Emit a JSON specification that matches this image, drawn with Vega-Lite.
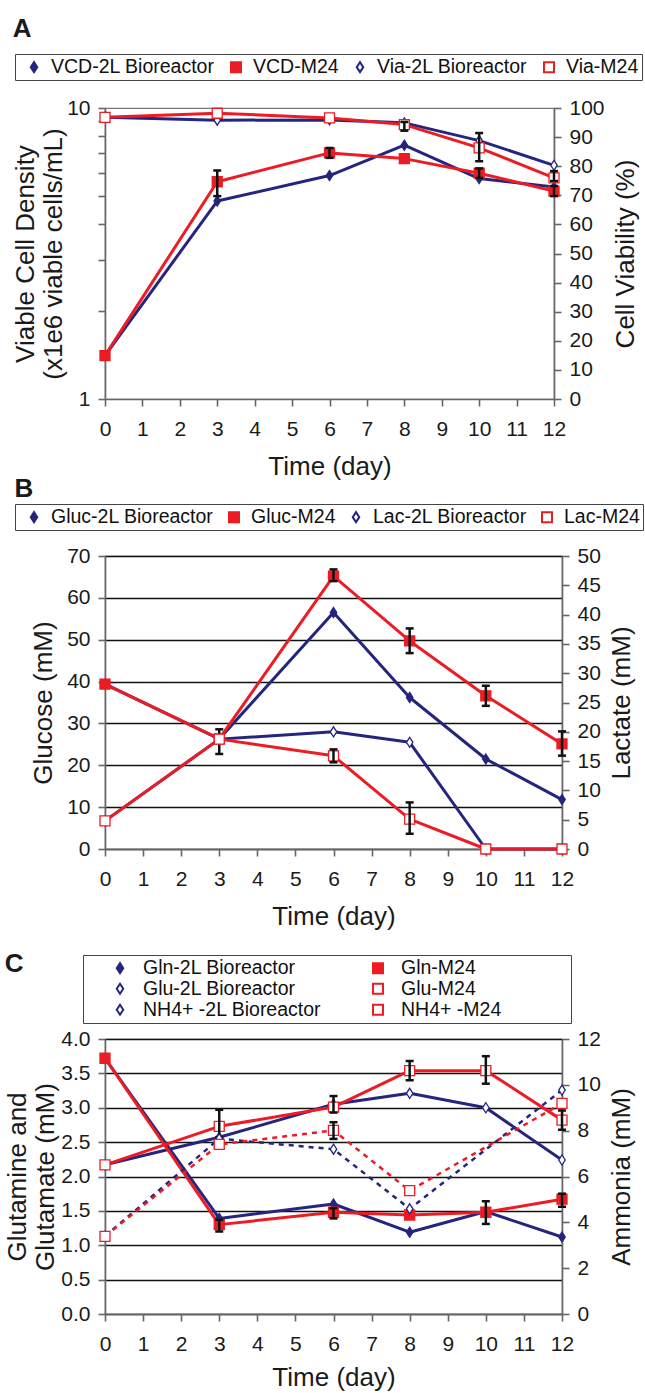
{
  "$schema": "https://vega.github.io/schema/vega-lite/v6.json",
  "background": "white",
  "padding": {"left": 4, "top": 14, "right": 0, "bottom": 0},
  "datasets": {
    "A": [
      {"measure": "VCD", "series": "VCD-2L Bioreactor", "day": 0, "v": 1.41},
      {"measure": "VCD", "series": "VCD-2L Bioreactor", "day": 3, "v": 4.79},
      {"measure": "VCD", "series": "VCD-2L Bioreactor", "day": 6, "v": 5.86},
      {"measure": "VCD", "series": "VCD-2L Bioreactor", "day": 8, "v": 7.45},
      {"measure": "VCD", "series": "VCD-2L Bioreactor", "day": 10, "v": 5.72},
      {"measure": "VCD", "series": "VCD-2L Bioreactor", "day": 12, "v": 5.35},
      {"measure": "VCD", "series": "VCD-M24", "day": 0, "v": 1.41},
      {"measure": "VCD", "series": "VCD-M24", "day": 3, "v": 5.58, "lo": 4.98, "hi": 6.1},
      {"measure": "VCD", "series": "VCD-M24", "day": 6, "v": 7.01, "lo": 6.74, "hi": 7.29},
      {"measure": "VCD", "series": "VCD-M24", "day": 8, "v": 6.7},
      {"measure": "VCD", "series": "VCD-M24", "day": 10, "v": 5.97, "lo": 5.75, "hi": 6.2},
      {"measure": "VCD", "series": "VCD-M24", "day": 12, "v": 5.18, "lo": 4.98, "hi": 5.39},
      {"measure": "Via", "series": "Via-2L Bioreactor", "day": 0, "v": 96.8},
      {"measure": "Via", "series": "Via-2L Bioreactor", "day": 3, "v": 95.8},
      {"measure": "Via", "series": "Via-2L Bioreactor", "day": 6, "v": 95.9},
      {"measure": "Via", "series": "Via-2L Bioreactor", "day": 8, "v": 94.9},
      {"measure": "Via", "series": "Via-2L Bioreactor", "day": 10, "v": 88.8},
      {"measure": "Via", "series": "Via-2L Bioreactor", "day": 12, "v": 80.3},
      {"measure": "Via", "series": "Via-M24", "day": 0, "v": 96.8},
      {"measure": "Via", "series": "Via-M24", "day": 3, "v": 98.2},
      {"measure": "Via", "series": "Via-M24", "day": 6, "v": 96.6},
      {"measure": "Via", "series": "Via-M24", "day": 8, "v": 94.3, "lo": 92.2, "hi": 95.2},
      {"measure": "Via", "series": "Via-M24", "day": 10, "v": 86.3, "lo": 81.7, "hi": 91.4},
      {"measure": "Via", "series": "Via-M24", "day": 12, "v": 76.0, "lo": 74.9, "hi": 78.3}
    ],
    "B": [
      {"measure": "Glucose", "series": "Gluc-2L Bioreactor", "day": 0, "v": 39.4},
      {"measure": "Glucose", "series": "Gluc-2L Bioreactor", "day": 3, "v": 26.3},
      {"measure": "Glucose", "series": "Gluc-2L Bioreactor", "day": 6, "v": 56.5},
      {"measure": "Glucose", "series": "Gluc-2L Bioreactor", "day": 8, "v": 36.2},
      {"measure": "Glucose", "series": "Gluc-2L Bioreactor", "day": 10, "v": 21.5},
      {"measure": "Glucose", "series": "Gluc-2L Bioreactor", "day": 12, "v": 11.8},
      {"measure": "Glucose", "series": "Gluc-M24", "day": 0, "v": 39.4},
      {"measure": "Glucose", "series": "Gluc-M24", "day": 3, "v": 26.3, "lo": 22.7, "hi": 28.6},
      {"measure": "Glucose", "series": "Gluc-M24", "day": 6, "v": 65.2, "lo": 64.0, "hi": 66.8},
      {"measure": "Glucose", "series": "Gluc-M24", "day": 8, "v": 49.7, "lo": 46.8, "hi": 52.7},
      {"measure": "Glucose", "series": "Gluc-M24", "day": 10, "v": 36.6, "lo": 34.2, "hi": 39.0},
      {"measure": "Glucose", "series": "Gluc-M24", "day": 12, "v": 25.1, "lo": 22.3, "hi": 28.1},
      {"measure": "Lactate", "series": "Lac-2L Bioreactor", "day": 0, "v": 4.8},
      {"measure": "Lactate", "series": "Lac-2L Bioreactor", "day": 3, "v": 18.75},
      {"measure": "Lactate", "series": "Lac-2L Bioreactor", "day": 6, "v": 20.0},
      {"measure": "Lactate", "series": "Lac-2L Bioreactor", "day": 8, "v": 18.2},
      {"measure": "Lactate", "series": "Lac-2L Bioreactor", "day": 10, "v": 0},
      {"measure": "Lactate", "series": "Lac-2L Bioreactor", "day": 12, "v": 0},
      {"measure": "Lactate", "series": "Lac-M24", "day": 0, "v": 4.8},
      {"measure": "Lactate", "series": "Lac-M24", "day": 3, "v": 18.75},
      {"measure": "Lactate", "series": "Lac-M24", "day": 6, "v": 15.9, "lo": 14.8, "hi": 17.0},
      {"measure": "Lactate", "series": "Lac-M24", "day": 8, "v": 5.1, "lo": 2.6, "hi": 7.95},
      {"measure": "Lactate", "series": "Lac-M24", "day": 10, "v": 0},
      {"measure": "Lactate", "series": "Lac-M24", "day": 12, "v": 0}
    ],
    "C": [
      {"measure": "Gln", "series": "Gln-2L Bioreactor", "day": 0, "v": 3.72},
      {"measure": "Gln", "series": "Gln-2L Bioreactor", "day": 3, "v": 1.39},
      {"measure": "Gln", "series": "Gln-2L Bioreactor", "day": 6, "v": 1.6},
      {"measure": "Gln", "series": "Gln-2L Bioreactor", "day": 8, "v": 1.19},
      {"measure": "Gln", "series": "Gln-2L Bioreactor", "day": 10, "v": 1.49},
      {"measure": "Gln", "series": "Gln-2L Bioreactor", "day": 12, "v": 1.12},
      {"measure": "Glu", "series": "Glu-2L Bioreactor", "day": 0, "v": 2.17},
      {"measure": "Glu", "series": "Glu-2L Bioreactor", "day": 3, "v": 2.57},
      {"measure": "Glu", "series": "Glu-2L Bioreactor", "day": 6, "v": 3.05},
      {"measure": "Glu", "series": "Glu-2L Bioreactor", "day": 8, "v": 3.21},
      {"measure": "Glu", "series": "Glu-2L Bioreactor", "day": 10, "v": 3.0},
      {"measure": "Glu", "series": "Glu-2L Bioreactor", "day": 12, "v": 2.24},
      {"measure": "Gln", "series": "Gln-M24", "day": 0, "v": 3.72},
      {"measure": "Gln", "series": "Gln-M24", "day": 3, "v": 1.3, "lo": 1.2, "hi": 1.37},
      {"measure": "Gln", "series": "Gln-M24", "day": 6, "v": 1.48, "lo": 1.39, "hi": 1.54},
      {"measure": "Gln", "series": "Gln-M24", "day": 8, "v": 1.44},
      {"measure": "Gln", "series": "Gln-M24", "day": 10, "v": 1.48, "lo": 1.31, "hi": 1.64},
      {"measure": "Gln", "series": "Gln-M24", "day": 12, "v": 1.67, "lo": 1.56, "hi": 1.75},
      {"measure": "Glu", "series": "Glu-M24", "day": 0, "v": 2.17},
      {"measure": "Glu", "series": "Glu-M24", "day": 3, "v": 2.73, "lo": 2.57, "hi": 2.97},
      {"measure": "Glu", "series": "Glu-M24", "day": 6, "v": 3.01, "lo": 2.93, "hi": 3.17},
      {"measure": "Glu", "series": "Glu-M24", "day": 8, "v": 3.54, "lo": 3.4, "hi": 3.68},
      {"measure": "Glu", "series": "Glu-M24", "day": 10, "v": 3.54, "lo": 3.35, "hi": 3.75},
      {"measure": "Glu", "series": "Glu-M24", "day": 12, "v": 2.82, "lo": 2.68, "hi": 2.96},
      {"measure": "NH4", "series": "NH4+ -2L Bioreactor", "day": 0, "v": 3.39},
      {"measure": "NH4", "series": "NH4+ -2L Bioreactor", "day": 3, "v": 7.65},
      {"measure": "NH4", "series": "NH4+ -2L Bioreactor", "day": 6, "v": 7.19},
      {"measure": "NH4", "series": "NH4+ -2L Bioreactor", "day": 8, "v": 4.59},
      {"measure": "NH4", "series": "NH4+ -2L Bioreactor", "day": 12, "v": 9.77},
      {"measure": "NH4", "series": "NH4+ -M24", "day": 0, "v": 3.39},
      {"measure": "NH4", "series": "NH4+ -M24", "day": 3, "v": 7.4},
      {"measure": "NH4", "series": "NH4+ -M24", "day": 6, "v": 8.01, "lo": 7.64, "hi": 8.37},
      {"measure": "NH4", "series": "NH4+ -M24", "day": 8, "v": 5.38},
      {"measure": "NH4", "series": "NH4+ -M24", "day": 12, "v": 9.19}
    ]
  },
  "vconcat": [
    {
      "spacing": -6,
      "resolve": {"scale": {"stroke": "independent", "fill": "independent", "shape": "independent"}, "legend": {"stroke": "independent"}},
      "vconcat": [
        {
          "data": {"name": "A"},
          "width": 449,
          "height": 291,
          "title": {"text": "A", "offset": 12},
          "layer": [
            {
              "transform": [{"filter": "datum.measure == 'VCD'"}],
              "encoding": {
                "x": {"field": "day", "type": "quantitative", "scale": {"domain": [0, 12], "nice": false}, "axis": {"values": [0,1,2,3,4,5,6,7,8,9,10,11,12], "format": "d", "title": "Time (day)", "labelPadding": 12, "titlePadding": 14, "labelOverlap": false}},
                "y": {"field": "v", "type": "quantitative", "scale": {"type": "log", "domain": [1, 10]}, "axis": {"orient": "left", "values": [1,2,3,4,5,6,7,8,9,10], "labelExpr": "datum.value == 1 || datum.value == 10 ? format(datum.value, 'd') : ''", "title": ["Viable Cell Density", "(x1e6 viable cells/mL)"], "titleLineHeight": 28, "titlePadding": 0, "labelOverlap": false}}
              },
              "layer": [
                {
                  "mark": {"type": "line", "strokeWidth": 3, "strokeJoin": "round"},
                  "encoding": {
                    "stroke": {"field": "series", "type": "nominal", "scale": {"domain": ["VCD-2L Bioreactor", "VCD-M24", "Via-2L Bioreactor", "Via-M24"], "range": ["#25257f", "#ec1c24", "#25257f", "#ec1c24"]}}
                  }
                },
                {
                  "mark": {"type": "point", "filled": true, "size": 100, "strokeWidth": 1.3, "opacity": 1},
                  "encoding": {
                    "stroke": {"field": "series", "type": "nominal", "scale": {"domain": ["VCD-2L Bioreactor", "VCD-M24", "Via-2L Bioreactor", "Via-M24"], "range": ["#25257f", "#ec1c24", "#25257f", "#ec1c24"]},
                      "legend": {"title": null, "orient": "none", "legendX": -90, "legendY": -54, "direction": "horizontal", "columns": 4, "symbolSize": 100, "symbolOffset": 6.25, "symbolStrokeWidth": 2, "labelFontSize": 19.5, "labelOffset": 7.25, "columnPadding": 5, "padding": 3, "strokeColor": "#444", "fillColor": "white", "labelColor": "#111", "labelLimit": 400}},
                    "fill": {"field": "series", "type": "nominal", "scale": {"domain": ["VCD-2L Bioreactor", "VCD-M24", "Via-2L Bioreactor", "Via-M24"], "range": ["#25257f", "#ec1c24", "white", "white"]}, "legend": null},
                    "shape": {"field": "series", "type": "nominal", "scale": {"domain": ["VCD-2L Bioreactor", "VCD-M24", "Via-2L Bioreactor", "Via-M24"], "range": ["M0,-1L0.65,0L0,1L-0.65,0Z", "square", "M0,-1L0.65,0L0,1L-0.65,0Z", "square"]}, "legend": null}
                  }
                },
                {
                  "transform": [{"filter": "isValid(datum.lo)"}],
                  "mark": {"type": "rule", "strokeWidth": 2.5, "color": "#111"},
                  "encoding": {
                    "y": {"field": "lo", "type": "quantitative", "scale": {"type": "log", "domain": [1, 10]}, "axis": {"orient": "left", "values": [1,2,3,4,5,6,7,8,9,10], "labelExpr": "datum.value == 1 || datum.value == 10 ? format(datum.value, 'd') : ''", "title": ["Viable Cell Density", "(x1e6 viable cells/mL)"], "titleLineHeight": 28, "titlePadding": 0, "labelOverlap": false}},
                    "y2": {"field": "hi"}
                  }
                },
                {
                  "transform": [{"filter": "isValid(datum.lo)"}, {"fold": ["lo", "hi"], "as": ["end", "cap"]}],
                  "mark": {"type": "tick", "orient": "horizontal", "size": 8, "thickness": 2.5, "color": "#111", "opacity": 1},
                  "encoding": {
                    "y": {"field": "cap", "type": "quantitative", "scale": {"type": "log", "domain": [1, 10]}, "axis": {"orient": "left", "values": [1,2,3,4,5,6,7,8,9,10], "labelExpr": "datum.value == 1 || datum.value == 10 ? format(datum.value, 'd') : ''", "title": ["Viable Cell Density", "(x1e6 viable cells/mL)"], "titleLineHeight": 28, "titlePadding": 0, "labelOverlap": false}}
                  }
                }
              ]
            },
            {
              "transform": [{"filter": "datum.measure == 'Via'"}],
              "encoding": {
                "x": {"field": "day", "type": "quantitative", "scale": {"domain": [0, 12], "nice": false}, "axis": {"values": [0,1,2,3,4,5,6,7,8,9,10,11,12], "format": "d", "title": "Time (day)", "labelPadding": 12, "titlePadding": 14, "labelOverlap": false}},
                "y": {"field": "v", "type": "quantitative", "scale": {"domain": [0, 100]}, "axis": {"orient": "right", "values": [0,10,20,30,40,50,60,70,80,90,100], "title": "Cell Viability (%)", "titleAngle": 270, "titleBaseline": "top", "titlePadding": 8, "labelOverlap": false}}
              },
              "layer": [
                {
                  "mark": {"type": "line", "strokeWidth": 3, "strokeJoin": "round"},
                  "encoding": {
                    "stroke": {"field": "series", "type": "nominal", "scale": {"domain": ["VCD-2L Bioreactor", "VCD-M24", "Via-2L Bioreactor", "Via-M24"], "range": ["#25257f", "#ec1c24", "#25257f", "#ec1c24"]}}
                  }
                },
                {
                  "mark": {"type": "point", "filled": true, "size": 100, "strokeWidth": 1.3, "opacity": 1},
                  "encoding": {
                    "stroke": {"field": "series", "type": "nominal", "scale": {"domain": ["VCD-2L Bioreactor", "VCD-M24", "Via-2L Bioreactor", "Via-M24"], "range": ["#25257f", "#ec1c24", "#25257f", "#ec1c24"]}},
                    "fill": {"field": "series", "type": "nominal", "scale": {"domain": ["VCD-2L Bioreactor", "VCD-M24", "Via-2L Bioreactor", "Via-M24"], "range": ["#25257f", "#ec1c24", "white", "white"]}, "legend": null},
                    "shape": {"field": "series", "type": "nominal", "scale": {"domain": ["VCD-2L Bioreactor", "VCD-M24", "Via-2L Bioreactor", "Via-M24"], "range": ["M0,-1L0.65,0L0,1L-0.65,0Z", "square", "M0,-1L0.65,0L0,1L-0.65,0Z", "square"]}, "legend": null}
                  }
                },
                {
                  "transform": [{"filter": "isValid(datum.lo)"}],
                  "mark": {"type": "rule", "strokeWidth": 2.5, "color": "#111"},
                  "encoding": {
                    "y": {"field": "lo", "type": "quantitative", "scale": {"domain": [0, 100]}, "axis": {"orient": "right", "values": [0,10,20,30,40,50,60,70,80,90,100], "title": "Cell Viability (%)", "titleAngle": 270, "titleBaseline": "top", "titlePadding": 8, "labelOverlap": false}},
                    "y2": {"field": "hi"}
                  }
                },
                {
                  "transform": [{"filter": "isValid(datum.lo)"}, {"fold": ["lo", "hi"], "as": ["end", "cap"]}],
                  "mark": {"type": "tick", "orient": "horizontal", "size": 8, "thickness": 2.5, "color": "#111", "opacity": 1},
                  "encoding": {
                    "y": {"field": "cap", "type": "quantitative", "scale": {"domain": [0, 100]}, "axis": {"orient": "right", "values": [0,10,20,30,40,50,60,70,80,90,100], "title": "Cell Viability (%)", "titleAngle": 270, "titleBaseline": "top", "titlePadding": 8, "labelOverlap": false}}
                  }
                }
              ]
            }
          ],
          "resolve": {"scale": {"y": "independent"}}
        },
        {
          "data": {"name": "B"},
          "width": 457,
          "height": 293,
          "title": {"text": "B", "offset": 2},
          "layer": [
            {
              "transform": [{"filter": "datum.measure == 'Glucose'"}],
              "encoding": {
                "x": {"field": "day", "type": "quantitative", "scale": {"domain": [0, 12], "nice": false}, "axis": {"values": [0,1,2,3,4,5,6,7,8,9,10,11,12], "format": "d", "title": "Time (day)", "labelPadding": 12, "titlePadding": 14, "labelOverlap": false}},
                "y": {"field": "v", "type": "quantitative", "scale": {"domain": [0, 70]}, "axis": {"orient": "left", "values": [0,10,20,30,40,50,60,70], "title": "Glucose (mM)", "titlePadding": 10, "grid": true, "gridColor": "#111", "gridWidth": 1.3, "labelOverlap": false}}
              },
              "layer": [
                {
                  "mark": {"type": "line", "strokeWidth": 3, "strokeJoin": "round"},
                  "encoding": {
                    "stroke": {"field": "series", "type": "nominal", "scale": {"domain": ["Gluc-2L Bioreactor", "Gluc-M24", "Lac-2L Bioreactor", "Lac-M24"], "range": ["#25257f", "#ec1c24", "#25257f", "#ec1c24"]}}
                  }
                },
                {
                  "mark": {"type": "point", "filled": true, "size": 100, "strokeWidth": 1.3, "opacity": 1},
                  "encoding": {
                    "stroke": {"field": "series", "type": "nominal", "scale": {"domain": ["Gluc-2L Bioreactor", "Gluc-M24", "Lac-2L Bioreactor", "Lac-M24"], "range": ["#25257f", "#ec1c24", "#25257f", "#ec1c24"]},
                      "legend": {"title": null, "orient": "none", "legendX": -90, "legendY": -52, "direction": "horizontal", "columns": 4, "symbolSize": 100, "symbolOffset": 6.25, "symbolStrokeWidth": 2, "labelFontSize": 19.5, "labelOffset": 7.25, "columnPadding": 4, "padding": 3, "strokeColor": "#444", "fillColor": "white", "labelColor": "#111", "labelLimit": 400}},
                    "fill": {"field": "series", "type": "nominal", "scale": {"domain": ["Gluc-2L Bioreactor", "Gluc-M24", "Lac-2L Bioreactor", "Lac-M24"], "range": ["#25257f", "#ec1c24", "white", "white"]}, "legend": null},
                    "shape": {"field": "series", "type": "nominal", "scale": {"domain": ["Gluc-2L Bioreactor", "Gluc-M24", "Lac-2L Bioreactor", "Lac-M24"], "range": ["M0,-1L0.65,0L0,1L-0.65,0Z", "square", "M0,-1L0.65,0L0,1L-0.65,0Z", "square"]}, "legend": null}
                  }
                },
                {
                  "transform": [{"filter": "isValid(datum.lo)"}],
                  "mark": {"type": "rule", "strokeWidth": 2.5, "color": "#111"},
                  "encoding": {
                    "y": {"field": "lo", "type": "quantitative", "scale": {"domain": [0, 70]}, "axis": {"orient": "left", "values": [0,10,20,30,40,50,60,70], "title": "Glucose (mM)", "titlePadding": 10, "grid": true, "gridColor": "#111", "gridWidth": 1.3, "labelOverlap": false}},
                    "y2": {"field": "hi"}
                  }
                },
                {
                  "transform": [{"filter": "isValid(datum.lo)"}, {"fold": ["lo", "hi"], "as": ["end", "cap"]}],
                  "mark": {"type": "tick", "orient": "horizontal", "size": 8, "thickness": 2.5, "color": "#111", "opacity": 1},
                  "encoding": {
                    "y": {"field": "cap", "type": "quantitative", "scale": {"domain": [0, 70]}, "axis": {"orient": "left", "values": [0,10,20,30,40,50,60,70], "title": "Glucose (mM)", "titlePadding": 10, "grid": true, "gridColor": "#111", "gridWidth": 1.3, "labelOverlap": false}}
                  }
                }
              ]
            },
            {
              "transform": [{"filter": "datum.measure == 'Lactate'"}],
              "encoding": {
                "x": {"field": "day", "type": "quantitative", "scale": {"domain": [0, 12], "nice": false}, "axis": {"values": [0,1,2,3,4,5,6,7,8,9,10,11,12], "format": "d", "title": "Time (day)", "labelPadding": 12, "titlePadding": 14, "labelOverlap": false}},
                "y": {"field": "v", "type": "quantitative", "scale": {"domain": [0, 50]}, "axis": {"orient": "right", "values": [0,5,10,15,20,25,30,35,40,45,50], "title": "Lactate (mM)", "titleAngle": 270, "titleBaseline": "top", "titlePadding": 8, "labelOverlap": false}}
              },
              "layer": [
                {
                  "mark": {"type": "line", "strokeWidth": 3, "strokeJoin": "round"},
                  "encoding": {
                    "stroke": {"field": "series", "type": "nominal", "scale": {"domain": ["Gluc-2L Bioreactor", "Gluc-M24", "Lac-2L Bioreactor", "Lac-M24"], "range": ["#25257f", "#ec1c24", "#25257f", "#ec1c24"]}}
                  }
                },
                {
                  "mark": {"type": "point", "filled": true, "size": 100, "strokeWidth": 1.3, "opacity": 1},
                  "encoding": {
                    "stroke": {"field": "series", "type": "nominal", "scale": {"domain": ["Gluc-2L Bioreactor", "Gluc-M24", "Lac-2L Bioreactor", "Lac-M24"], "range": ["#25257f", "#ec1c24", "#25257f", "#ec1c24"]}},
                    "fill": {"field": "series", "type": "nominal", "scale": {"domain": ["Gluc-2L Bioreactor", "Gluc-M24", "Lac-2L Bioreactor", "Lac-M24"], "range": ["#25257f", "#ec1c24", "white", "white"]}, "legend": null},
                    "shape": {"field": "series", "type": "nominal", "scale": {"domain": ["Gluc-2L Bioreactor", "Gluc-M24", "Lac-2L Bioreactor", "Lac-M24"], "range": ["M0,-1L0.65,0L0,1L-0.65,0Z", "square", "M0,-1L0.65,0L0,1L-0.65,0Z", "square"]}, "legend": null}
                  }
                },
                {
                  "transform": [{"filter": "isValid(datum.lo)"}],
                  "mark": {"type": "rule", "strokeWidth": 2.5, "color": "#111"},
                  "encoding": {
                    "y": {"field": "lo", "type": "quantitative", "scale": {"domain": [0, 50]}, "axis": {"orient": "right", "values": [0,5,10,15,20,25,30,35,40,45,50], "title": "Lactate (mM)", "titleAngle": 270, "titleBaseline": "top", "titlePadding": 8, "labelOverlap": false}},
                    "y2": {"field": "hi"}
                  }
                },
                {
                  "transform": [{"filter": "isValid(datum.lo)"}, {"fold": ["lo", "hi"], "as": ["end", "cap"]}],
                  "mark": {"type": "tick", "orient": "horizontal", "size": 8, "thickness": 2.5, "color": "#111", "opacity": 1},
                  "encoding": {
                    "y": {"field": "cap", "type": "quantitative", "scale": {"domain": [0, 50]}, "axis": {"orient": "right", "values": [0,5,10,15,20,25,30,35,40,45,50], "title": "Lactate (mM)", "titleAngle": 270, "titleBaseline": "top", "titlePadding": 8, "labelOverlap": false}}
                  }
                }
              ]
            }
          ],
          "resolve": {"scale": {"y": "independent"}}
        }
      ]
    },
    {
      "data": {"name": "C"},
      "width": 457,
      "height": 275,
      "title": {"text": "C", "offset": -22},
      "layer": [
        {
          "transform": [{"filter": "datum.measure != 'NH4'"}],
          "encoding": {
            "x": {"field": "day", "type": "quantitative", "scale": {"domain": [0, 12], "nice": false}, "axis": {"values": [0,1,2,3,4,5,6,7,8,9,10,11,12], "format": "d", "title": "Time (day)", "labelPadding": 12, "titlePadding": 10, "labelOverlap": false}},
            "y": {"field": "v", "type": "quantitative", "scale": {"domain": [0, 4]}, "axis": {"orient": "left", "values": [0,0.5,1,1.5,2,2.5,3,3.5,4], "format": ".1f", "title": ["Glutamine and", "Glutamate (mM)"], "titleLineHeight": 28, "titlePadding": 2, "grid": true, "gridColor": "#111", "gridWidth": 1.3, "labelOverlap": false}}
          },
          "layer": [
            {
              "mark": {"type": "line", "strokeWidth": 3, "strokeJoin": "round"},
              "encoding": {
                "stroke": {"field": "series", "type": "nominal", "scale": {"domain": ["Gln-2L Bioreactor", "Gln-M24", "Glu-2L Bioreactor", "Glu-M24", "NH4+ -2L Bioreactor", "NH4+ -M24"], "range": ["#25257f", "#ec1c24", "#25257f", "#ec1c24", "#25257f", "#ec1c24"]}}
              }
            },
            {
              "mark": {"type": "point", "filled": true, "size": 100, "strokeWidth": 1.3, "opacity": 1},
              "encoding": {
                "stroke": {"field": "series", "type": "nominal", "scale": {"domain": ["Gln-2L Bioreactor", "Gln-M24", "Glu-2L Bioreactor", "Glu-M24", "NH4+ -2L Bioreactor", "NH4+ -M24"], "range": ["#25257f", "#ec1c24", "#25257f", "#ec1c24", "#25257f", "#ec1c24"]},
                  "legend": {"title": " ", "titleOrient": "right", "titlePadding": 67, "titleFontSize": 8, "orient": "none", "legendX": -22, "legendY": -84, "direction": "horizontal", "columns": 2, "symbolSize": 100, "symbolOffset": 24.25, "symbolStrokeWidth": 2, "labelFontSize": 19.5, "labelOffset": 13.25, "columnPadding": 22, "rowPadding": 0, "padding": 3, "strokeColor": "#444", "fillColor": "white", "labelColor": "#111", "labelLimit": 400}},
                "fill": {"field": "series", "type": "nominal", "scale": {"domain": ["Gln-2L Bioreactor", "Gln-M24", "Glu-2L Bioreactor", "Glu-M24", "NH4+ -2L Bioreactor", "NH4+ -M24"], "range": ["#25257f", "#ec1c24", "white", "white", "white", "white"]}, "legend": null},
                "shape": {"field": "series", "type": "nominal", "scale": {"domain": ["Gln-2L Bioreactor", "Gln-M24", "Glu-2L Bioreactor", "Glu-M24", "NH4+ -2L Bioreactor", "NH4+ -M24"], "range": ["M0,-1L0.65,0L0,1L-0.65,0Z", "square", "M0,-1L0.65,0L0,1L-0.65,0Z", "square", "M0,-1L0.65,0L0,1L-0.65,0Z", "square"]}, "legend": null}
              }
            },
            {
              "transform": [{"filter": "isValid(datum.lo)"}],
              "mark": {"type": "rule", "strokeWidth": 2.5, "color": "#111"},
              "encoding": {
                "y": {"field": "lo", "type": "quantitative", "scale": {"domain": [0, 4]}, "axis": {"orient": "left", "values": [0,0.5,1,1.5,2,2.5,3,3.5,4], "format": ".1f", "title": ["Glutamine and", "Glutamate (mM)"], "titleLineHeight": 28, "titlePadding": 2, "grid": true, "gridColor": "#111", "gridWidth": 1.3, "labelOverlap": false}},
                "y2": {"field": "hi"}
              }
            },
            {
              "transform": [{"filter": "isValid(datum.lo)"}, {"fold": ["lo", "hi"], "as": ["end", "cap"]}],
              "mark": {"type": "tick", "orient": "horizontal", "size": 8, "thickness": 2.5, "color": "#111", "opacity": 1},
              "encoding": {
                "y": {"field": "cap", "type": "quantitative", "scale": {"domain": [0, 4]}, "axis": {"orient": "left", "values": [0,0.5,1,1.5,2,2.5,3,3.5,4], "format": ".1f", "title": ["Glutamine and", "Glutamate (mM)"], "titleLineHeight": 28, "titlePadding": 2, "grid": true, "gridColor": "#111", "gridWidth": 1.3, "labelOverlap": false}}
              }
            }
          ]
        },
        {
          "transform": [{"filter": "datum.measure == 'NH4'"}],
          "encoding": {
            "x": {"field": "day", "type": "quantitative", "scale": {"domain": [0, 12], "nice": false}, "axis": {"values": [0,1,2,3,4,5,6,7,8,9,10,11,12], "format": "d", "title": "Time (day)", "labelPadding": 12, "titlePadding": 10, "labelOverlap": false}},
            "y": {"field": "v", "type": "quantitative", "scale": {"domain": [0, 12]}, "axis": {"orient": "right", "values": [0,2,4,6,8,10,12], "title": "Ammonia (mM)", "titleAngle": 270, "titleBaseline": "top", "titlePadding": 8, "labelOverlap": false}}
          },
          "layer": [
            {
              "mark": {"type": "line", "strokeWidth": 2.5, "strokeDash": [5, 5]},
              "encoding": {
                "stroke": {"field": "series", "type": "nominal", "scale": {"domain": ["Gln-2L Bioreactor", "Gln-M24", "Glu-2L Bioreactor", "Glu-M24", "NH4+ -2L Bioreactor", "NH4+ -M24"], "range": ["#25257f", "#ec1c24", "#25257f", "#ec1c24", "#25257f", "#ec1c24"]}}
              }
            },
            {
              "mark": {"type": "point", "filled": true, "size": 100, "strokeWidth": 1.3, "opacity": 1},
              "encoding": {
                "stroke": {"field": "series", "type": "nominal", "scale": {"domain": ["Gln-2L Bioreactor", "Gln-M24", "Glu-2L Bioreactor", "Glu-M24", "NH4+ -2L Bioreactor", "NH4+ -M24"], "range": ["#25257f", "#ec1c24", "#25257f", "#ec1c24", "#25257f", "#ec1c24"]}},
                "fill": {"field": "series", "type": "nominal", "scale": {"domain": ["Gln-2L Bioreactor", "Gln-M24", "Glu-2L Bioreactor", "Glu-M24", "NH4+ -2L Bioreactor", "NH4+ -M24"], "range": ["#25257f", "#ec1c24", "white", "white", "white", "white"]}, "legend": null},
                "shape": {"field": "series", "type": "nominal", "scale": {"domain": ["Gln-2L Bioreactor", "Gln-M24", "Glu-2L Bioreactor", "Glu-M24", "NH4+ -2L Bioreactor", "NH4+ -M24"], "range": ["M0,-1L0.65,0L0,1L-0.65,0Z", "square", "M0,-1L0.65,0L0,1L-0.65,0Z", "square", "M0,-1L0.65,0L0,1L-0.65,0Z", "square"]}, "legend": null}
              }
            },
            {
              "transform": [{"filter": "isValid(datum.lo)"}],
              "mark": {"type": "rule", "strokeWidth": 2.5, "color": "#111"},
              "encoding": {
                "y": {"field": "lo", "type": "quantitative", "scale": {"domain": [0, 12]}, "axis": {"orient": "right", "values": [0,2,4,6,8,10,12], "title": "Ammonia (mM)", "titleAngle": 270, "titleBaseline": "top", "titlePadding": 8, "labelOverlap": false}},
                "y2": {"field": "hi"}
              }
            },
            {
              "transform": [{"filter": "isValid(datum.lo)"}, {"fold": ["lo", "hi"], "as": ["end", "cap"]}],
              "mark": {"type": "tick", "orient": "horizontal", "size": 8, "thickness": 2.5, "color": "#111", "opacity": 1},
              "encoding": {
                "y": {"field": "cap", "type": "quantitative", "scale": {"domain": [0, 12]}, "axis": {"orient": "right", "values": [0,2,4,6,8,10,12], "title": "Ammonia (mM)", "titleAngle": 270, "titleBaseline": "top", "titlePadding": 8, "labelOverlap": false}}
              }
            }
          ]
        }
      ],
      "resolve": {"scale": {"y": "independent"}}
    }
  ],
  "spacing": 19,
  "resolve": {"scale": {"stroke": "independent", "fill": "independent", "shape": "independent"}, "legend": {"stroke": "independent"}},
  "config": {
    "font": "Liberation Sans",
    "view": {"stroke": "#777", "strokeWidth": 1.2},
    "axis": {"labelFontSize": 21, "titleFontSize": 26, "titleFontWeight": "normal", "labelColor": "#1a1a1a", "titleColor": "#1a1a1a", "domainColor": "#666", "domainWidth": 1.6, "tickColor": "#666", "tickWidth": 1.6, "tickSize": 7, "labelPadding": 8, "labelFlush": false, "labelOverlap": false, "grid": false},
    "title": {"fontSize": 26, "fontWeight": "bold", "anchor": "start", "frame": "bounds", "color": "#1a1a1a"},
    "legend": {"labelFont": "Liberation Sans"}
  }
}
